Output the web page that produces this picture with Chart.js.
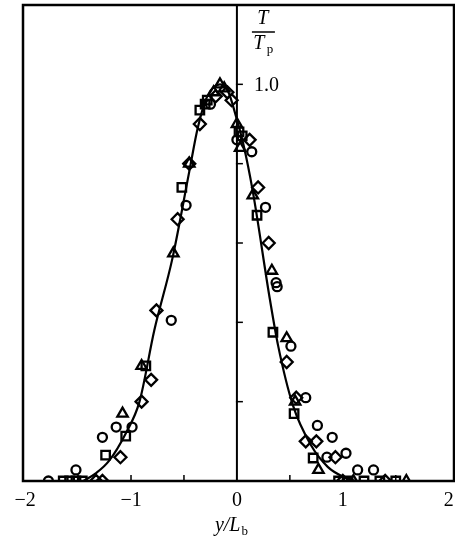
<!DOCTYPE html>
<html>
<head>
<meta charset="utf-8">
<script src="https://cdn.jsdelivr.net/npm/chart.js@4.4.1/dist/chart.umd.min.js"></script>
<style>
  html, body { margin: 0; padding: 0; background: #fff; }
  #wrap { width: 455px; height: 544px; position: relative; }
</style>
</head>
<body>
<div id="wrap"><canvas id="chart"></canvas></div>
<script>
// Temperature profile T/Tp against y/Lb

const xTickValues = [-1.5, -1, -0.5, 0.5, 1, 1.5];
const xLabelValues = [-2, -1, 0, 1, 2];
const yTickValues = [0.2, 0.4, 0.6, 0.8, 1.0];

// fitted curve
const curveX = [-1.45, -1.33, -1.21, -1.05, -0.92, -0.78, -0.61, -0.45, -0.37, -0.28, -0.16, -0.08, -0.02, 0.06, 0.15, 0.31, 0.39, 0.53, 0.70, 0.86, 1.01, 1.12];
const curveY = [0, 0.02, 0.05, 0.12, 0.20, 0.38, 0.56, 0.78, 0.89, 0.97, 1.0, 0.98, 0.93, 0.85, 0.73, 0.46, 0.34, 0.19, 0.09, 0.035, 0.01, 0];

// measured points, one array per symbol
const circleX = [-1.78, -1.52, -1.27, -1.14, -0.99, -0.62, -0.48, -0.25, 0.0, 0.14, 0.27, 0.38, 0.37, 0.51, 0.65, 0.76, 0.90, 0.85, 1.03, 1.14, 1.29];
const circleY = [0, 0.028, 0.11, 0.136, 0.136, 0.405, 0.695, 0.95, 0.86, 0.83, 0.69, 0.49, 0.50, 0.34, 0.21, 0.14, 0.11, 0.06, 0.07, 0.028, 0.028];

const squareX = [-1.64, -1.58, -1.52, -1.46, -1.24, -1.05, -0.86, -0.52, -0.35, -0.30, -0.28, 0.02, 0.05, 0.19, 0.34, 0.54, 0.72, 0.96, 1.05, 1.2, 1.35, 1.5];
const squareY = [0, 0, 0, 0, 0.065, 0.113, 0.29, 0.74, 0.935, 0.95, 0.96, 0.88, 0.87, 0.67, 0.375, 0.17, 0.058, 0, 0, 0, 0, 0];

const triangleX = [-1.08, -0.90, -0.60, -0.45, -0.16, -0.22, -0.12, 0.0, 0.03, 0.15, 0.33, 0.47, 0.55, 0.77, 1.1, 1.6];
const triangleY = [0.17, 0.29, 0.574, 0.80, 1.0, 0.98, 0.99, 0.90, 0.84, 0.72, 0.53, 0.36, 0.20, 0.028, 0, 0];

const diamondX = [-1.33, -1.27, -1.10, -0.90, -0.81, -0.76, -0.56, -0.45, -0.35, -0.20, -0.09, -0.05, 0.12, 0.20, 0.30, 0.47, 0.56, 0.65, 0.75, 0.93, 1.0, 1.4];
const diamondY = [0, 0, 0.06, 0.20, 0.255, 0.43, 0.66, 0.80, 0.90, 0.97, 0.98, 0.96, 0.86, 0.74, 0.60, 0.30, 0.21, 0.10, 0.10, 0.06, 0, 0];

const SERIF = '"Liberation Serif", "DejaVu Serif", serif';

function toPoints(xs, ys) {
    return xs.map((x, i) => ({ x: x, y: ys[i] }));
}

function markerSet(xs, ys, style, radius) {
    return {
        data: toPoints(xs, ys),
        showLine: false,
        pointStyle: style,
        pointRadius: radius,
        pointHoverRadius: radius,
        pointBorderWidth: 2.3,
        borderColor: '#000',
        backgroundColor: 'rgba(255,255,255,0)'
    };
}

// frame, axis through zero, ticks and all text
const decorations = {
    id: 'decorations',
    afterDraw(chart) {
        const ctx = chart.ctx;
        const area = chart.chartArea;
        const xs = chart.scales.x;
        const ys = chart.scales.y;
        const x0 = xs.getPixelForValue(0);
        const yBase = ys.getPixelForValue(0);

        ctx.save();
        ctx.strokeStyle = '#000';
        ctx.fillStyle = '#000';

        ctx.lineWidth = 2.5;
        ctx.strokeRect(area.left, area.top, area.right - area.left, area.bottom - area.top);

        ctx.lineWidth = 2;
        ctx.beginPath();
        ctx.moveTo(x0, area.top);
        ctx.lineTo(x0, area.bottom);
        ctx.stroke();

        ctx.lineWidth = 1.5;
        xTickValues.forEach(v => {
            const px = xs.getPixelForValue(v);
            ctx.beginPath();
            ctx.moveTo(px, yBase);
            ctx.lineTo(px, yBase - 6);
            ctx.stroke();
        });
        yTickValues.forEach(v => {
            const py = ys.getPixelForValue(v);
            ctx.beginPath();
            ctx.moveTo(x0 - 1, py);
            ctx.lineTo(x0 + 6, py);
            ctx.stroke();
        });

        ctx.font = '20px ' + SERIF;
        ctx.textAlign = 'center';
        ctx.textBaseline = 'middle';
        xLabelValues.forEach(v => {
            const txt = v < 0 ? '\u2212' + Math.abs(v) : String(v);
            ctx.fillText(txt, xs.getPixelForValue(v), area.bottom + 20);
        });

        ctx.textAlign = 'left';
        ctx.fillText('1.0', x0 + 17, ys.getPixelForValue(1.0) + 1);

        // T / Tp
        ctx.font = 'italic 20px ' + SERIF;
        ctx.textAlign = 'center';
        ctx.fillText('T', x0 + 26, 19);
        ctx.lineWidth = 1.5;
        ctx.beginPath();
        ctx.moveTo(x0 + 15, 32);
        ctx.lineTo(x0 + 38, 32);
        ctx.stroke();
        ctx.fillText('T', x0 + 22, 44);
        ctx.font = '13px ' + SERIF;
        ctx.fillText('p', x0 + 33, 50);

        // y / Lb
        ctx.font = 'italic 20px ' + SERIF;
        ctx.textAlign = 'left';
        const base = 'y/L';
        const w = ctx.measureText(base).width;
        const left = x0 - 22;
        ctx.fillText(base, left, 526);
        ctx.font = '13px ' + SERIF;
        ctx.fillText('b', left + w + 1, 532);

        ctx.restore();
    }
};

document.addEventListener('DOMContentLoaded', () => {
    const ctx = document.getElementById('chart').getContext('2d');
    new Chart(ctx, {
        type: 'scatter',
        data: {
            datasets: [
                {
                    data: toPoints(curveX, curveY),
                    showLine: true,
                    borderColor: '#000',
                    borderWidth: 2.2,
                    pointRadius: 0,
                    cubicInterpolationMode: 'monotone',
                    fill: false
                },
                markerSet(circleX, circleY, 'circle', 4.5),
                markerSet(squareX, squareY, 'rect', 6),
                markerSet(triangleX, triangleY, 'triangle', 6),
                markerSet(diamondX, diamondY, 'rectRot', 6)
            ]
        },
        options: {
            responsive: true,
            maintainAspectRatio: false,
            animation: false,
            layout: { autoPadding: false, padding: { left: 23, right: 1, top: 5, bottom: 63 } },
            plugins: {
                legend: { display: false },
                tooltip: { enabled: false }
            },
            scales: {
                x: { type: 'linear', min: -2.02, max: 2.05, display: false },
                y: { type: 'linear', min: 0, max: 1.2, display: false }
            }
        },
        plugins: [decorations]
    });
});
</script>
</body>
</html>
